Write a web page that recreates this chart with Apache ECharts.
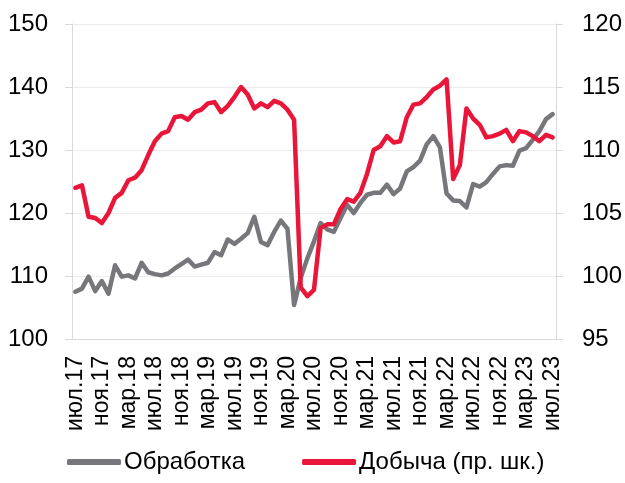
<!DOCTYPE html>
<html>
<head>
<meta charset="utf-8">
<script src="https://cdn.jsdelivr.net/npm/echarts@6/dist/echarts.min.js"></script>
<style>
  html, body { margin: 0; padding: 0; background: #fff; }
  #chart { width: 625px; height: 483px; }
</style>
</head>
<body>
<div id="chart"></div>
<script>
// месяцы: июл.17 - июл.23
const months = [
  'июл.17', 'авг.17', 'сен.17', 'окт.17', 'ноя.17', 'дек.17',
  'янв.18', 'фев.18', 'мар.18', 'апр.18', 'май.18', 'июн.18', 'июл.18', 'авг.18', 'сен.18', 'окт.18', 'ноя.18', 'дек.18',
  'янв.19', 'фев.19', 'мар.19', 'апр.19', 'май.19', 'июн.19', 'июл.19', 'авг.19', 'сен.19', 'окт.19', 'ноя.19', 'дек.19',
  'янв.20', 'фев.20', 'мар.20', 'апр.20', 'май.20', 'июн.20', 'июл.20', 'авг.20', 'сен.20', 'окт.20', 'ноя.20', 'дек.20',
  'янв.21', 'фев.21', 'мар.21', 'апр.21', 'май.21', 'июн.21', 'июл.21', 'авг.21', 'сен.21', 'окт.21', 'ноя.21', 'дек.21',
  'янв.22', 'фев.22', 'мар.22', 'апр.22', 'май.22', 'июн.22', 'июл.22', 'авг.22', 'сен.22', 'окт.22', 'ноя.22', 'дек.22',
  'янв.23', 'фев.23', 'мар.23', 'апр.23', 'май.23', 'июн.23', 'июл.23'
]

// Обработка (левая шкала)
const processing = [
  107.5, 108.0, 109.9, 107.6, 109.2, 107.2,
  111.7, 109.9, 110.1, 109.6, 112.1, 110.6, 110.3, 110.1, 110.4, 111.2, 111.9, 112.6,
  111.5, 111.8, 112.1, 113.8, 113.3, 115.8, 115.1, 115.9, 116.8, 119.4, 115.4, 114.9,
  117.0, 118.8, 117.5, 105.4, 109.7, 112.8, 115.5, 118.4, 117.4, 117.0, 119.2, 121.3,
  120.0, 121.6, 122.9, 123.2, 123.2, 124.5, 123.0, 123.9, 126.6, 127.3, 128.3, 130.9,
  132.2, 130.4, 123.1, 122.0, 121.9, 120.9, 124.6, 124.2, 124.9, 126.2, 127.4, 127.6,
  127.5, 129.9, 130.3, 131.6, 133.0, 134.9, 135.7
]

// Добыча (правая шкала)
const mining = [
  107.0, 107.2, 104.7, 104.6, 104.2, 105.0,
  106.2, 106.6, 107.6, 107.8, 108.4, 109.6, 110.7, 111.3, 111.5, 112.6, 112.7, 112.4,
  113.0, 113.2, 113.7, 113.8, 113.0, 113.5, 114.2, 115.0, 114.4, 113.3, 113.7, 113.4,
  113.9, 113.7, 113.2, 112.4, 99.1, 98.4, 98.9, 103.8, 104.1, 104.1, 105.3, 106.1,
  105.9, 106.6, 108.1, 110.0, 110.3, 111.1, 110.6, 110.7, 112.6, 113.6, 113.7, 114.2,
  114.8, 115.1, 115.6, 107.7, 108.8, 113.3, 112.5, 112.0, 111.0, 111.1, 111.3, 111.6,
  110.7, 111.5, 111.4, 111.1, 110.7, 111.2, 111.0
]

const seriesNames = ['Обработка', 'Добыча (пр. шк.)']
const colors = ['#77777b', '#ea1639']

const font = 'Liberation Sans, Arial, sans-serif'
const chart = echarts.init(document.getElementById('chart'))

const option = {
  backgroundColor: '#fff',
  animation: false,
  color: colors,
  grid: { left: 72, right: 67, top: 24, bottom: 144, containLabel: false },
  legend: {
    bottom: 4,
    left: 62,
    icon: 'roundRect',
    itemWidth: 54,
    itemHeight: 6,
    itemGap: 57,
    textStyle: { fontSize: 24, color: '#000', fontFamily: font, padding: [0, 0, 0, -2] },
    data: seriesNames
  },
  xAxis: {
    type: 'category',
    data: months,
    boundaryGap: true,
    axisLine: { lineStyle: { color: '#d9d9d9', width: 1 } },
    axisTick: { interval: 3, length: 6, lineStyle: { color: '#d9d9d9' } },
    axisLabel: {
      interval: 3,
      rotate: 90,
      margin: 17,
      fontSize: 23,
      color: '#000',
      fontFamily: font
    },
    splitLine: { show: false }
  },
  yAxis: [
    {
      type: 'value',
      min: 100,
      max: 150,
      interval: 10,
      axisLine: { show: true, lineStyle: { color: '#d9d9d9' } },
      axisTick: { show: true, length: 7, lineStyle: { color: '#d9d9d9' } },
      axisLabel: { margin: 24, fontSize: 24, color: '#000', fontFamily: font },
      splitLine: { lineStyle: { color: '#ececec', width: 1 } }
    },
    {
      type: 'value',
      min: 95,
      max: 120,
      interval: 5,
      position: 'right',
      axisLine: { show: true, lineStyle: { color: '#d9d9d9' } },
      axisTick: { show: true, length: 7, lineStyle: { color: '#d9d9d9' } },
      axisLabel: { margin: 26, fontSize: 24, color: '#000', fontFamily: font },
      splitLine: { show: false }
    }
  ],
  series: [
    {
      name: seriesNames[0],
      type: 'line',
      yAxisIndex: 0,
      data: processing,
      symbol: 'none',
      lineStyle: { width: 4.5, color: colors[0], join: 'round', cap: 'round' },
      z: 2
    },
    {
      name: seriesNames[1],
      type: 'line',
      yAxisIndex: 1,
      data: mining,
      symbol: 'none',
      lineStyle: { width: 4.5, color: colors[1], join: 'round', cap: 'round' },
      z: 3
    }
  ]
}

chart.setOption(option)
</script>
</body>
</html>
